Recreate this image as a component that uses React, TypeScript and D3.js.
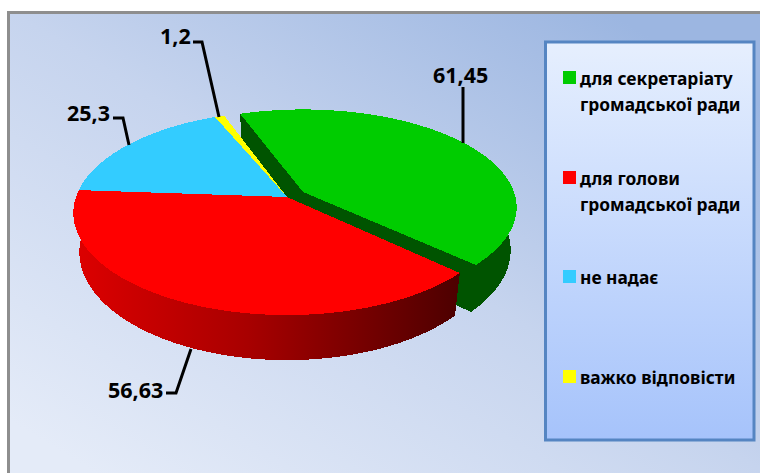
import React from "react";
import * as d3 from "d3";

const categories = ["для секретаріату громадської ради", "для голови громадської ради", "не надає", "важко відповісти"];
const values = [61.45, 56.63, 25.3, 1.2];
const valueLabels = ["61,45", "56,63", "25,3", "1,2"];
const topColors = ["#00cc00", "#ff0000", "#33ccff", "#ffff00"];
const wallColors = ["#005400", "url(#redWall)", "#1b7fa0", "#a0a000"];
const legendLines = [["для секретаріату", "громадської ради"], ["для голови", "громадської ради"], ["не надає"], ["важко відповісти"]];
const legendY = [84, 184, 283, 383];
const explode = [[16, -5], [0, 0], [0, 0], [0, 0]];
const sliceScale = [[1, 0.96], [1, 1], [1, 1], [1, 1]];
const sliceDepth = [42, 38, 38, 38];
const labelPos = [[433, 83], [108, 398], [67, 121], [160, 44]];
const leaders = [
  [[463, 87], [463, 143]],
  [[166, 393], [176, 393], [191, 349]],
  [[113, 118], [123, 118], [129, 145]],
  [[193, 42], [202, 42], [219, 117]],
];

const CX = 287, CY = 197, A = 99.5, B = 211, K = 0.157, SHRINK = 0.972;

const project = (u: number, v: number, i: number, bottom: boolean) => {
  const [dx, dy] = explode[i];
  const [sx, sy] = sliceScale[i];
  const w = 1 - K * v;
  const x = (B * u * sx) / w;
  const y = (A * v * sy) / w;
  if (!bottom) return [CX + dx + x, CY + dy + y];
  return [CX + dx + x * SHRINK, CY + dy + y + sliceDepth[i] / w];
};
const rim = (a0: number, a1: number, i: number, bottom: boolean) => {
  const n = Math.max(2, Math.ceil((a1 - a0) / 0.02));
  return d3.range(n + 1).map((k) => {
    const a = a0 + ((a1 - a0) * k) / n - Math.PI / 2;
    return project(Math.cos(a), Math.sin(a), i, bottom);
  });
};
const line = d3.line().curve(d3.curveLinear);
const closed = (pts: number[][]) => line(pts as [number, number][]) + "Z";

export default function App() {
  const arcs = d3.pie<number>().sort(null).startAngle((-20 * Math.PI) / 180).endAngle((340 * Math.PI) / 180)(values);
  const order = [0, 2, 3, 1];
  return (
    <svg width={760} height={473} style={{ position: "absolute", left: 0, top: 0, background: "#fff" }} fontFamily="'Noto Sans', sans-serif" fontWeight={700}>
      <defs>
        <linearGradient id="bg" gradientUnits="userSpaceOnUse" x1={182} y1={572} x2={588} y2={-92}>
          <stop offset="0.05" stopColor="#e4ebf8" />
          <stop offset="0.5" stopColor="#c6d4ee" />
          <stop offset="0.9" stopColor="#9cb6e1" />
        </linearGradient>
        <linearGradient id="legendBg" x1="0" y1="0" x2="0" y2="1">
          <stop offset="0" stopColor="#e6effe" />
          <stop offset="1" stopColor="#a6c3fb" />
        </linearGradient>
        <linearGradient id="redWall" gradientUnits="userSpaceOnUse" x1={75} y1={0} x2={458} y2={0}>
          <stop offset="0" stopColor="#dd0000" />
          <stop offset="0.45" stopColor="#a80000" />
          <stop offset="1" stopColor="#4d0000" />
        </linearGradient>
      </defs>
      <rect x={8.5} y={12.5} width={760} height={470} fill="url(#bg)" stroke="#8e8e8e" strokeWidth={3} />
      {order.map((i) => {
        const { startAngle: a0, endAngle: a1 } = arcs[i];
        const top = rim(a0, a1, i, false);
        const bot = rim(a0, a1, i, true);
        const apexT = project(0, 0, i, false);
        const apexB = project(0, 0, i, true);
        return (
          <g key={i} shapeRendering="crispEdges">
            <path d={closed([apexT, top[0], bot[0], apexB])} fill={wallColors[i]} />
            <path d={closed([apexT, top[top.length - 1], bot[bot.length - 1], apexB])} fill={wallColors[i]} />
            <path d={closed([...top, ...bot.slice().reverse()])} fill={wallColors[i]} />
          </g>
        );
      })}
      {order.map((i) => {
        const { startAngle: a0, endAngle: a1 } = arcs[i];
        return (
          <path key={i} shapeRendering="crispEdges" d={closed([project(0, 0, i, false), ...rim(a0, a1, i, false)])} fill={topColors[i]} />
        );
      })}
      {leaders.map((pts, i) => (
        <path key={i} d={line(pts as [number, number][]) as string} fill="none" stroke="#000" strokeWidth={3} />
      ))}
      {valueLabels.map((t, i) => (
        <text key={i} x={labelPos[i][0]} y={labelPos[i][1]} fontSize={21.5} fontWeight={700} fill="#000">{t}</text>
      ))}
      <rect x={545.5} y={42} width={208.5} height={398} fill="url(#legendBg)" stroke="#5585c2" strokeWidth={3} />
      {categories.map((c, i) => (
        <g key={c}>
          <rect x={563} y={legendY[i] - 13} width={13} height={13} fill={topColors[i]} />
          {legendLines[i].map((t, j) => (
            <text key={j} x={580} y={legendY[i] + 1 + j * 25.5} fontSize={17.4} fill="#000">{t}</text>
          ))}
        </g>
      ))}
    </svg>
  );
}
